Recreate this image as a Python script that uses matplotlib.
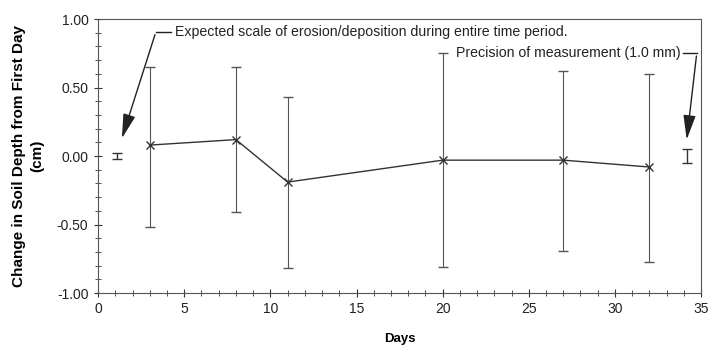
import matplotlib
matplotlib.use("Agg")
import matplotlib.pyplot as plt
import numpy as np
from matplotlib.ticker import MultipleLocator, FormatStrFormatter

plt.rcParams['font.family'] = ['Liberation Sans', 'DejaVu Sans']

# measured change in soil depth (cm)
days = [3, 8, 11, 20, 27, 32]
depth = [0.08, 0.12, -0.19, -0.03, -0.03, -0.08]
err_low = [0.60, 0.53, 0.63, 0.78, 0.66, 0.69]
err_high = [0.57, 0.53, 0.62, 0.78, 0.65, 0.68]

# reference bars
expected_x, expected_y, expected_err = 1.1, 0.0, 0.025
precision_x, precision_y, precision_err = 34.2, 0.0, 0.05

ink = '#333333'
txt = '#222222'

fig = plt.figure(figsize=(7.11, 3.46), dpi=100)
ax = fig.add_axes([0.138, 0.153, 0.848, 0.792])

ax.errorbar(days, depth, yerr=[err_low, err_high], color=ink, lw=1.0,
            ecolor='#555555', elinewidth=0.8, capsize=3.5, capthick=0.8,
            marker='x', ms=6, mew=1.0)
ax.errorbar([expected_x], [expected_y], yerr=[expected_err], color=ink,
            elinewidth=1.0, capsize=3.3, capthick=1.0, fmt='none')
ax.errorbar([precision_x], [precision_y], yerr=[precision_err], color=ink,
            elinewidth=1.0, capsize=3.3, capthick=1.0, fmt='none')

ax.text(4.45, 0.905, 'Expected scale of erosion/deposition during entire time period.',
        fontsize=10.2, va='center', ha='left', color=txt)
ax.text(20.8, 0.75, 'Precision of measurement (1.0 mm)',
        fontsize=10.2, va='center', ha='left', color=txt)

# leader lines with arrows
arrow = dict(arrowstyle='-|>,head_length=1.5,head_width=0.38', color=txt, lw=1.0)
ax.plot([4.25, 3.35], [0.905, 0.905], color=txt, lw=1.0)
ax.annotate('', xy=(1.33, 0.11), xytext=(3.35, 0.905), arrowprops=arrow)
ax.plot([33.95, 34.75], [0.75, 0.75], color=txt, lw=1.0)
ax.annotate('', xy=(34.15, 0.10), xytext=(34.75, 0.75), arrowprops=arrow)

ax.set_xlim(0, 35)
ax.set_ylim(-1.0, 1.0)
ax.xaxis.set_major_locator(MultipleLocator(5))
ax.xaxis.set_minor_locator(MultipleLocator(1))
ax.yaxis.set_major_locator(MultipleLocator(0.5))
ax.yaxis.set_minor_locator(MultipleLocator(0.1))
ax.yaxis.set_major_formatter(FormatStrFormatter('%.2f'))
ax.tick_params(which='major', direction='inout', length=6, width=0.8,
               colors=ink, labelsize=10, labelcolor=txt)
ax.tick_params(which='minor', direction='inout', length=4, width=0.6, colors=ink)
ax.tick_params(axis='y', pad=4)
for s in ax.spines.values():
    s.set_color('#555555')
    s.set_linewidth(0.8)

ax.set_xlabel('Days', fontsize=9.5, fontweight='bold', labelpad=12)
ax.set_ylabel('Change in Soil Depth from First Day\n(cm)', fontsize=11,
              fontweight='bold', labelpad=9, linespacing=1.35)

fig.savefig('out.png', dpi=100)
